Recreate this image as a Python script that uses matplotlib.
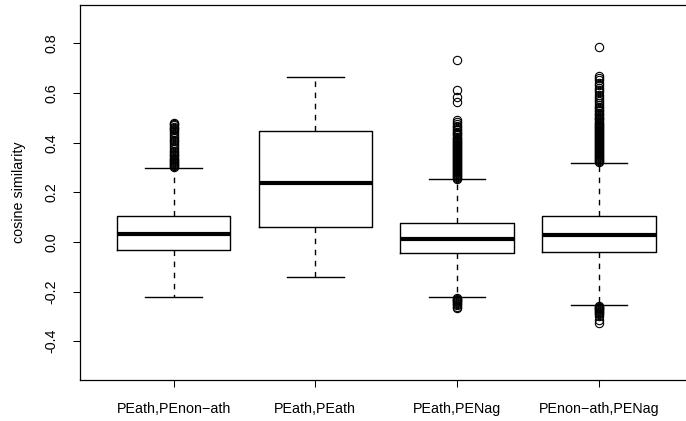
import matplotlib
matplotlib.use("Agg")
import matplotlib.pyplot as plt

# group labels
groups = ["PEath,PEnon\u2212ath", "PEath,PEath", "PEath,PENag", "PEnon\u2212ath,PENag"]

# box statistics
medians = [0.032, 0.236, 0.012, 0.028]
q1s = [-0.031, 0.060, -0.045, -0.040]
q3s = [0.104, 0.446, 0.075, 0.104]
whis_lo = [-0.223, -0.143, -0.222, -0.254]
whis_hi = [0.297, 0.665, 0.252, 0.319]

# outliers (estimated, dense columns sampled)
fliers_1 = [0.302, 0.306, 0.31, 0.314, 0.318, 0.322, 0.326, 0.33, 0.335, 0.34,
            0.345, 0.35, 0.356, 0.362, 0.368, 0.375, 0.382, 0.39, 0.398, 0.405,
            0.412, 0.42, 0.428, 0.435, 0.442, 0.45, 0.455, 0.46, 0.465, 0.47,
            0.475, 0.48]
fliers_2 = []
fliers_3 = [0.255, 0.259, 0.263, 0.267, 0.271, 0.275, 0.279, 0.283, 0.287, 0.291,
            0.295, 0.299, 0.303, 0.307, 0.311, 0.315, 0.319, 0.323, 0.327, 0.331,
            0.335, 0.339, 0.343, 0.347, 0.351, 0.355, 0.359, 0.363, 0.367, 0.371,
            0.375, 0.379, 0.383, 0.387, 0.391, 0.395, 0.399, 0.403, 0.407, 0.411,
            0.415, 0.42, 0.425, 0.43, 0.435, 0.44, 0.445, 0.45, 0.456, 0.462,
            0.468, 0.475, 0.482, 0.49, 0.565, 0.585, 0.612, 0.735,
            -0.226, -0.229, -0.232, -0.235, -0.238, -0.242, -0.246, -0.25,
            -0.255, -0.26, -0.265]
fliers_4 = [0.323, 0.327, 0.331, 0.335, 0.339, 0.343, 0.347, 0.351, 0.355, 0.359,
            0.363, 0.367, 0.371, 0.375, 0.379, 0.383, 0.387, 0.391, 0.395, 0.399,
            0.403, 0.407, 0.411, 0.415, 0.419, 0.423, 0.427, 0.431, 0.435, 0.439,
            0.443, 0.447, 0.451, 0.455, 0.459, 0.463, 0.467, 0.471, 0.475, 0.48,
            0.485, 0.49, 0.495, 0.50, 0.505, 0.51, 0.515, 0.52, 0.526, 0.532,
            0.538, 0.545, 0.552, 0.56, 0.568, 0.576, 0.585, 0.594, 0.603, 0.612,
            0.622, 0.632, 0.642, 0.652, 0.66, 0.668, 0.785,
            -0.258, -0.261, -0.264, -0.267, -0.27, -0.273, -0.277, -0.281,
            -0.286, -0.292, -0.30, -0.315, -0.326]
fliers = [fliers_1, fliers_2, fliers_3, fliers_4]

yticks = [-0.4, -0.2, 0.0, 0.2, 0.4, 0.6, 0.8]

plt.rcParams['font.family'] = ['Liberation Sans', 'DejaVu Sans']

stats = []
for i in range(len(groups)):
    stats.append({'med': medians[i], 'q1': q1s[i], 'q3': q3s[i],
                  'whislo': whis_lo[i], 'whishi': whis_hi[i],
                  'fliers': fliers[i], 'label': groups[i]})

fig = plt.figure(figsize=(6.86, 4.21), dpi=100)
W, H = 686.0, 421.0
ax = fig.add_axes([80 / W, 41 / H, 612.5 / W, 375.3 / H])

ax.bxp(stats, positions=[1, 2, 3, 4], widths=0.8,
       boxprops=dict(color='black', linewidth=1.0),
       medianprops=dict(color='black', linewidth=3.0, solid_capstyle='butt'),
       whiskerprops=dict(color='black', linewidth=1.0, linestyle=(0, (4, 4))),
       capprops=dict(color='black', linewidth=1.0),
       capwidths=0.4,
       flierprops=dict(marker='o', markerfacecolor='none', markeredgecolor='black',
                       markersize=6, markeredgewidth=0.8, linestyle='none'))

ax.set_xlim(0.34, 4.66)
ax.set_ylim(-0.556, 0.956)
ax.set_yticks(yticks)
ax.set_yticklabels(["%.1f" % v for v in yticks], rotation=90, va='center')
ax.tick_params(axis='both', direction='out', length=5, width=0.75,
               labelsize=10.3, colors='black')
ax.tick_params(axis='y', pad=10.5)
ax.tick_params(axis='x', pad=11)
ax.set_ylabel("cosine similarity", fontsize=10.3, labelpad=13)
for s in ax.spines.values():
    s.set_linewidth(0.9)

fig.savefig("out.png", dpi=100)
